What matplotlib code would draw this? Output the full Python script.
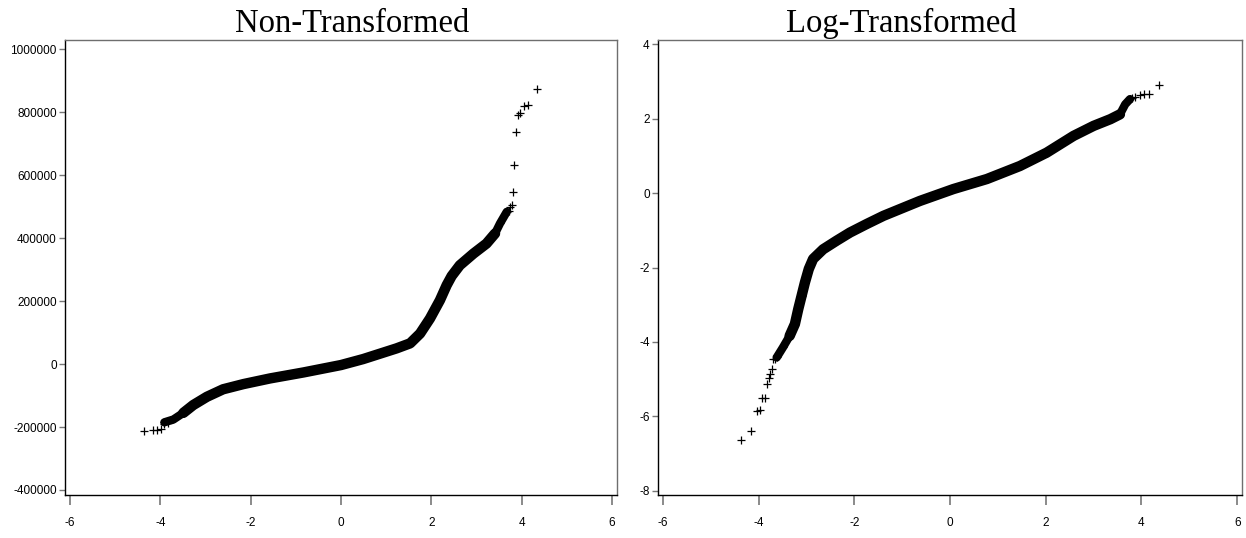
import numpy as np
import matplotlib
matplotlib.use("Agg")
import matplotlib.pyplot as plt

plt.rcParams.update({
    "font.family": "Liberation Sans",
    "font.size": 8.5,
    "axes.unicode_minus": False,
})

# Non-Transformed: dense middle band
raw_band_x = [-3.91, -3.71, -3.49, -3.27, -2.97, -2.61, -2.16, -1.57, -0.83, 0.0,
              0.49, 1.23, 1.53, 1.75, 1.97, 2.19, 2.34, 2.45, 2.63, 2.93, 3.22,
              3.41, 3.52, 3.67]
raw_band_y = [-185000, -176000, -155000, -130000, -104000, -80000, -63500, -45500,
              -26500, -3000, 16000, 50000, 66000, 97000, 145000, 203000, 251000,
              280000, 314000, 351000, 383000, 415000, 447000, 484000]
# Non-Transformed: sparse tail points
raw_tail_x = [-4.37, -4.17, -4.07, -3.98, -3.91, -3.84, 3.72, 3.75, 3.78, 3.80,
              3.83, 3.87, 3.91, 3.96, 4.06, 4.15, 4.35]
raw_tail_y = [-212000, -209500, -209500, -207000, -190000, -186000, 488000, 500000,
              505000, 547000, 632000, 737000, 793000, 799000, 819000, 825000, 875000]

# Log-Transformed: dense middle band
log_band_x = [-3.62, -3.49, -3.35, -3.24, -3.17, -3.10, -3.03, -2.95, -2.86, -2.65,
              -2.37, -2.09, -1.74, -1.39, -0.63, 0.07, 0.77, 1.46, 2.02, 2.58,
              3.00, 3.35, 3.55, 3.66, 3.76]
log_band_y = [-4.42, -4.15, -3.84, -3.52, -3.12, -2.76, -2.40, -2.04, -1.77, -1.51,
              -1.28, -1.06, -0.83, -0.61, -0.21, 0.11, 0.38, 0.73, 1.09, 1.54,
              1.81, 1.99, 2.12, 2.39, 2.53]
# Log-Transformed: sparse tail points
log_tail_x = [-4.36, -4.15, -4.04, -3.97, -3.92, -3.86, -3.83, -3.79, -3.77, -3.72,
              -3.70, -3.66, 3.81, 3.87, 3.97, 4.06, 4.15, 4.37]
log_tail_y = [-6.63, -6.41, -5.87, -5.83, -5.50, -5.50, -5.14, -4.96, -4.87, -4.74,
              -4.45, -4.45, 2.57, 2.60, 2.63, 2.66, 2.66, 2.90]

titles = ["Non-Transformed", "Log-Transformed"]
x_ticks = [-6, -4, -2, 0, 2, 4, 6]
raw_y_ticks = [-400000, -200000, 0, 200000, 400000, 600000, 800000, 1000000]
log_y_ticks = [-8, -6, -4, -2, 0, 2, 4]


def style_axes(ax, xlim, ylim, yticks):
    ax.set_xlim(*xlim)
    ax.set_ylim(*ylim)
    ax.set_xticks(x_ticks)
    ax.set_xticklabels([str(t) for t in x_ticks])
    ax.set_yticks(yticks)
    ax.set_yticklabels([str(t) for t in yticks])
    for side in ("left", "bottom"):
        ax.spines[side].set_color("black")
        ax.spines[side].set_linewidth(1.0)
    for side in ("top", "right"):
        ax.spines[side].set_color("#6e6e6e")
        ax.spines[side].set_linewidth(1.0)
    ax.tick_params(axis="x", direction="out", length=7, width=1.2,
                   color="#777777", pad=9, labelsize=8.5)
    ax.tick_params(axis="y", direction="out", length=4, width=1.0,
                   color="#777777", pad=2, labelsize=8.5)


def qq_panel(ax, bx, by, tx, ty):
    # dense band: slightly thinner at the ends, thicker body
    ax.plot(bx, by, color="black", lw=6, solid_capstyle="round",
            solid_joinstyle="round", zorder=2)
    ax.plot(bx[2:-2], by[2:-2], color="black", lw=7.5, solid_capstyle="round",
            solid_joinstyle="round", zorder=2)
    ax.plot(bx, by, linestyle="none", marker="+", ms=5.5, mew=0.9,
            color="black", zorder=3)
    ax.plot(tx, ty, linestyle="none", marker="+", ms=5.5, mew=0.9,
            color="black", zorder=3)


fig = plt.figure(figsize=(12.46, 5.38), dpi=100)
ax1 = fig.add_axes([65 / 1246, 43 / 538, 552 / 1246, 455 / 538])
ax2 = fig.add_axes([658 / 1246, 43 / 538, 584 / 1246, 455 / 538])

qq_panel(ax1, raw_band_x, raw_band_y, raw_tail_x, raw_tail_y)
style_axes(ax1, (-6.11, 6.11), (-416000, 1030000), raw_y_ticks)

qq_panel(ax2, log_band_x, log_band_y, log_tail_x, log_tail_y)
style_axes(ax2, (-6.1, 6.1), (-8.12, 4.12), log_y_ticks)

fig.text(352 / 1246, 1 - 32 / 538, titles[0], family="Liberation Serif",
         fontsize=23.5, ha="center", va="baseline")
fig.text(901 / 1246, 1 - 32 / 538, titles[1], family="Liberation Serif",
         fontsize=23.5, ha="center", va="baseline")

fig.savefig("out.png", dpi=100)
